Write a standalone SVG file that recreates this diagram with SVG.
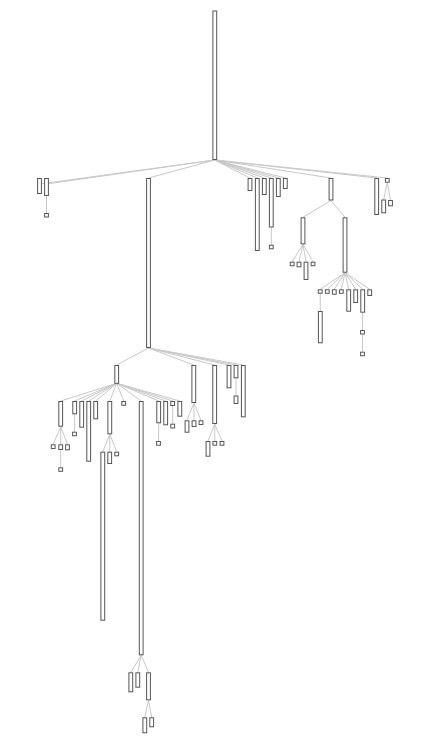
<svg xmlns="http://www.w3.org/2000/svg" width="432" height="740" viewBox="0 0 432 740">
<style>
.l{stroke:#c8c8c8;stroke-width:1;fill:none}
.n rect{fill:#fff;stroke:#555;stroke-width:1}
</style>
<rect x="0" y="0" width="432" height="740" fill="#fff"/>
<g id="connectors" class="l">
<line x1="214.8" y1="160" x2="39.5" y2="184"/>
<line x1="214.8" y1="160" x2="46.5" y2="184"/>
<line x1="214.8" y1="160" x2="148.5" y2="178"/>
<line x1="214.8" y1="160" x2="250" y2="178"/>
<line x1="214.8" y1="160" x2="257.3" y2="178"/>
<line x1="214.8" y1="160" x2="264.3" y2="178"/>
<line x1="214.8" y1="160" x2="271.3" y2="178"/>
<line x1="214.8" y1="160" x2="278.3" y2="178"/>
<line x1="214.8" y1="160" x2="285.3" y2="178"/>
<line x1="214.8" y1="160" x2="331" y2="178"/>
<line x1="214.8" y1="160" x2="376.7" y2="178"/>
<line x1="214.8" y1="160" x2="387.3" y2="178"/>
<line x1="46.5" y1="196" x2="46.5" y2="213"/>
<line x1="271.3" y1="227.5" x2="271.3" y2="244.7"/>
<line x1="331" y1="200.5" x2="303" y2="217.3"/>
<line x1="331" y1="200.5" x2="345" y2="217.3"/>
<line x1="303" y1="244.3" x2="292.2" y2="261.7"/>
<line x1="303" y1="244.3" x2="299" y2="261.7"/>
<line x1="303" y1="244.3" x2="306" y2="261.7"/>
<line x1="303" y1="244.3" x2="313" y2="261.7"/>
<line x1="345" y1="272.7" x2="320.2" y2="289.3"/>
<line x1="345" y1="272.7" x2="327.3" y2="289.3"/>
<line x1="345" y1="272.7" x2="334.3" y2="289.3"/>
<line x1="345" y1="272.7" x2="341.3" y2="289.3"/>
<line x1="345" y1="272.7" x2="348.7" y2="289.3"/>
<line x1="345" y1="272.7" x2="355.7" y2="289.3"/>
<line x1="345" y1="272.7" x2="362.7" y2="289.3"/>
<line x1="345" y1="272.7" x2="369.7" y2="289.3"/>
<line x1="320.2" y1="293.8" x2="320.3" y2="311"/>
<line x1="362.7" y1="312.7" x2="362.5" y2="330"/>
<line x1="362.5" y1="334.5" x2="362.5" y2="351.7"/>
<line x1="387.3" y1="182.7" x2="383.7" y2="199.5"/>
<line x1="387.3" y1="182.7" x2="390.5" y2="200"/>
<line x1="148.5" y1="348" x2="116.7" y2="365"/>
<line x1="148.5" y1="348" x2="193.8" y2="365"/>
<line x1="148.5" y1="348" x2="214.7" y2="365"/>
<line x1="148.5" y1="348" x2="229" y2="365"/>
<line x1="148.5" y1="348" x2="236" y2="365"/>
<line x1="148.5" y1="348" x2="243.3" y2="365"/>
<line x1="236" y1="378.3" x2="236" y2="395.5"/>
<line x1="193.8" y1="403" x2="187" y2="420.3"/>
<line x1="193.8" y1="403" x2="194" y2="420.3"/>
<line x1="193.8" y1="403" x2="201" y2="420.3"/>
<line x1="214.7" y1="424" x2="208" y2="441"/>
<line x1="214.7" y1="424" x2="214.8" y2="441"/>
<line x1="214.7" y1="424" x2="222" y2="441"/>
<line x1="116.7" y1="383.3" x2="60.7" y2="401"/>
<line x1="116.7" y1="383.3" x2="74.7" y2="401"/>
<line x1="116.7" y1="383.3" x2="81.7" y2="401"/>
<line x1="116.7" y1="383.3" x2="88.7" y2="401"/>
<line x1="116.7" y1="383.3" x2="95.7" y2="401"/>
<line x1="116.7" y1="383.3" x2="109.8" y2="401"/>
<line x1="116.7" y1="383.3" x2="123.7" y2="401"/>
<line x1="116.7" y1="383.3" x2="141.2" y2="401"/>
<line x1="116.7" y1="383.3" x2="158.7" y2="401"/>
<line x1="116.7" y1="383.3" x2="165.7" y2="401"/>
<line x1="116.7" y1="383.3" x2="172.7" y2="401"/>
<line x1="116.7" y1="383.3" x2="179.8" y2="401"/>
<line x1="60.7" y1="426.7" x2="53.2" y2="444.3"/>
<line x1="60.7" y1="426.7" x2="60.7" y2="444.3"/>
<line x1="60.7" y1="426.7" x2="67.5" y2="444.3"/>
<line x1="60.7" y1="450" x2="60.7" y2="467.3"/>
<line x1="74.7" y1="414.3" x2="74.5" y2="431.7"/>
<line x1="109.8" y1="434.3" x2="102.8" y2="451.7"/>
<line x1="109.8" y1="434.3" x2="109.7" y2="451.7"/>
<line x1="109.8" y1="434.3" x2="116.7" y2="451.7"/>
<line x1="141.2" y1="655.3" x2="130.8" y2="672.3"/>
<line x1="141.2" y1="655.3" x2="137.8" y2="672.3"/>
<line x1="141.2" y1="655.3" x2="148.5" y2="672.3"/>
<line x1="148.5" y1="700.3" x2="144.8" y2="717.3"/>
<line x1="148.5" y1="700.3" x2="151.7" y2="717.3"/>
<line x1="158.7" y1="423.3" x2="158.5" y2="441"/>
<line x1="172.7" y1="406" x2="172.7" y2="423.7"/>
</g>
<g class="n">
<g id="root"><rect x="212.9" y="11" width="3.8" height="148.5"/></g>
<g id="A"><rect x="37.6" y="178.5" width="3.8" height="15"/></g>
<g id="B"><rect x="44.6" y="178.5" width="3.8" height="17"/></g>
<g id="B1"><rect x="44.6" y="213.5" width="3.8" height="3.5"/></g>
<g id="C"><rect x="146.6" y="178.5" width="3.8" height="169"/></g>
<g id="r1"><rect x="248.1" y="178.5" width="3.8" height="12"/></g>
<g id="r2"><rect x="255.4" y="178.5" width="3.8" height="72"/></g>
<g id="r3"><rect x="262.4" y="178.5" width="3.8" height="16"/></g>
<g id="r4"><rect x="269.4" y="178.5" width="3.8" height="48.5"/></g>
<g id="r4a"><rect x="269.4" y="245.2" width="3.8" height="3.6"/></g>
<g id="r5"><rect x="276.4" y="178.5" width="3.8" height="18"/></g>
<g id="r6"><rect x="283.4" y="178.5" width="3.8" height="10"/></g>
<g id="D"><rect x="329.1" y="178.5" width="3.8" height="21.5"/></g>
<g id="D1"><rect x="301.1" y="217.8" width="3.8" height="26"/></g>
<g id="D2"><rect x="343.1" y="217.8" width="3.8" height="54.4"/></g>
<g id="d1a"><rect x="290.3" y="262.2" width="3.8" height="3.5"/></g>
<g id="d1b"><rect x="297.1" y="262.2" width="3.8" height="4.6"/></g>
<g id="d1c"><rect x="304.1" y="262.2" width="3.8" height="17.3"/></g>
<g id="d1d"><rect x="311.1" y="262.2" width="3.8" height="3.5"/></g>
<g id="c1"><rect x="318.3" y="289.8" width="3.8" height="3.5"/></g>
<g id="c1a"><rect x="318.4" y="311.5" width="3.8" height="31.3"/></g>
<g id="c2"><rect x="325.4" y="289.8" width="3.8" height="3.5"/></g>
<g id="c3"><rect x="332.4" y="289.8" width="3.8" height="4.4"/></g>
<g id="c4"><rect x="339.4" y="289.8" width="3.8" height="3.5"/></g>
<g id="c5"><rect x="346.8" y="289.8" width="3.8" height="21.4"/></g>
<g id="c6"><rect x="353.8" y="289.8" width="3.8" height="12.7"/></g>
<g id="c7"><rect x="360.8" y="289.8" width="3.8" height="22.4"/></g>
<g id="c7a"><rect x="360.6" y="330.5" width="3.8" height="3.5"/></g>
<g id="c7b"><rect x="360.6" y="352.2" width="3.8" height="3.5"/></g>
<g id="c8"><rect x="367.8" y="289.8" width="3.8" height="5.7"/></g>
<g id="E"><rect x="374.8" y="178.5" width="3.8" height="36"/></g>
<g id="F"><rect x="385.4" y="178.5" width="3.8" height="3.7"/></g>
<g id="F1"><rect x="381.8" y="200" width="3.8" height="12.8"/></g>
<g id="F2"><rect x="388.6" y="200.5" width="3.8" height="5.3"/></g>
<g id="G"><rect x="114.8" y="365.5" width="3.8" height="17.8"/></g>
<g id="H"><rect x="191.9" y="365.5" width="3.8" height="37"/></g>
<g id="I"><rect x="212.8" y="365.5" width="3.8" height="58"/></g>
<g id="J"><rect x="227.1" y="365.5" width="3.8" height="22.3"/></g>
<g id="K"><rect x="234.1" y="365.5" width="3.8" height="12.3"/></g>
<g id="K1"><rect x="234.1" y="396" width="3.8" height="7.5"/></g>
<g id="L"><rect x="241.4" y="365.5" width="3.8" height="51.3"/></g>
<g id="h1"><rect x="185.1" y="420.8" width="3.8" height="11.4"/></g>
<g id="h2"><rect x="192.1" y="420.8" width="3.8" height="5.7"/></g>
<g id="h3"><rect x="199.1" y="420.8" width="3.8" height="3.7"/></g>
<g id="i1"><rect x="206.1" y="441.5" width="3.8" height="14.7"/></g>
<g id="i2"><rect x="212.9" y="441.5" width="3.8" height="3.7"/></g>
<g id="i3"><rect x="220.1" y="441.5" width="3.8" height="3.7"/></g>
<g id="g1"><rect x="58.8" y="401.5" width="3.8" height="24.7"/></g>
<g id="g1a"><rect x="51.3" y="444.8" width="3.8" height="3.7"/></g>
<g id="g1b"><rect x="58.8" y="444.8" width="3.8" height="4.7"/></g>
<g id="g1c"><rect x="65.6" y="444.8" width="3.8" height="5"/></g>
<g id="g1b1"><rect x="58.8" y="467.8" width="3.8" height="3.5"/></g>
<g id="g2"><rect x="72.8" y="401.5" width="3.8" height="12.3"/></g>
<g id="g2a"><rect x="72.6" y="432.2" width="3.8" height="3.5"/></g>
<g id="g3"><rect x="79.8" y="401.5" width="3.8" height="25.7"/></g>
<g id="g4"><rect x="86.8" y="401.5" width="3.8" height="59.7"/></g>
<g id="g5"><rect x="93.8" y="401.5" width="3.8" height="17.3"/></g>
<g id="g6"><rect x="107.9" y="401.5" width="3.8" height="32.3"/></g>
<g id="g6a"><rect x="100.9" y="452.2" width="3.8" height="168"/></g>
<g id="g6b"><rect x="107.8" y="452.2" width="3.8" height="11.3"/></g>
<g id="g6c"><rect x="114.8" y="452.2" width="3.8" height="3.6"/></g>
<g id="g7"><rect x="121.8" y="401.5" width="3.8" height="3.7"/></g>
<g id="g8"><rect x="139.3" y="401.5" width="3.8" height="253.3"/></g>
<g id="k1"><rect x="128.9" y="672.8" width="3.8" height="19"/></g>
<g id="k2"><rect x="135.9" y="672.8" width="3.8" height="14.4"/></g>
<g id="k3"><rect x="146.6" y="672.8" width="3.8" height="27"/></g>
<g id="k3a"><rect x="142.9" y="717.8" width="3.8" height="15"/></g>
<g id="k3b"><rect x="149.8" y="717.8" width="3.8" height="9"/></g>
<g id="g9"><rect x="156.8" y="401.5" width="3.8" height="21.3"/></g>
<g id="g9a"><rect x="156.6" y="441.5" width="3.8" height="3.7"/></g>
<g id="g10"><rect x="163.8" y="401.5" width="3.8" height="23.3"/></g>
<g id="g11"><rect x="170.8" y="401.5" width="3.8" height="4"/></g>
<g id="g11a"><rect x="170.8" y="424.2" width="3.8" height="3.8"/></g>
<g id="g12"><rect x="177.9" y="401.5" width="3.8" height="14.7"/></g>
</g>
</svg>
